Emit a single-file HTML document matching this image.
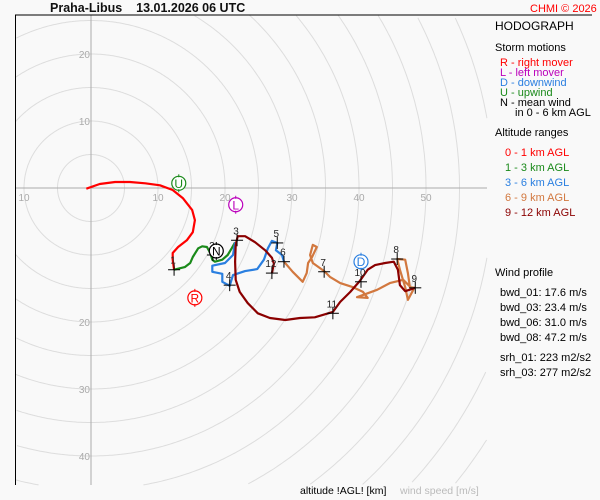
<!DOCTYPE html>
<html><head><meta charset="utf-8"><style>
html,body{margin:0;padding:0;width:600px;height:500px;overflow:hidden;background:#f9f9f9;}
svg{display:block;font-family:"Liberation Sans",sans-serif;}
</style></head><body>
<svg id="chart" width="600" height="500" viewBox="0 0 600 500" xmlns="http://www.w3.org/2000/svg">
<rect x="0" y="0" width="600" height="500" fill="#f9f9f9"/>
<defs><clipPath id="pc"><rect x="15" y="15" width="472" height="470"/></clipPath></defs>
<g id="grid"></g>
<line x1="15" y1="188" x2="487" y2="188" stroke="#aaa"/>
<line x1="91" y1="15" x2="91" y2="485" stroke="#aaa"/>
<g id="ticks" font-size="10" fill="#aaa"></g>
<g id="traces" clip-path="url(#pc)"></g>
<g id="markers"></g>
<g id="storms"></g>
<line x1="15" y1="15" x2="592" y2="15" stroke="#000"/>
<line x1="15.5" y1="15" x2="15.5" y2="485" stroke="#000"/>
<text x="50" y="12" font-size="12.5" font-weight="bold" fill="#111">Praha-Libus&#160;&#160;&#160; 13.01.2026 06 UTC</text>
<text x="530" y="12" font-size="11" fill="#f00">CHMI © 2026</text>
<g font-size="11">
<text x="495" y="30" font-size="12" fill="#000">HODOGRAPH</text>
<text x="495" y="51" fill="#000">Storm motions</text>
<text x="500" y="66" fill="#f00">R - right mover</text>
<text x="500" y="76" fill="#b0b">L - left mover</text>
<text x="500" y="86" fill="#2a7fe0">D - downwind</text>
<text x="500" y="96" fill="#1a8a1a">U - upwind</text>
<text x="500" y="106" fill="#000">N - mean wind</text>
<text x="515" y="116" fill="#000">in 0 - 6 km AGL</text>
<text x="495" y="136" fill="#000">Altitude ranges</text>
<text x="505" y="156" fill="#f00">0 - 1 km AGL</text>
<text x="505" y="171" fill="#1a8a1a">1 - 3 km AGL</text>
<text x="505" y="186" fill="#2a7fe0">3 - 6 km AGL</text>
<text x="505" y="201" fill="#d2783f">6 - 9 km AGL</text>
<text x="505" y="216" fill="#8b0000">9 - 12 km AGL</text>
<text x="495" y="276" fill="#000">Wind profile</text>
<text x="500" y="296" fill="#000">bwd_01: 17.6 m/s</text>
<text x="500" y="311" fill="#000">bwd_03: 23.4 m/s</text>
<text x="500" y="326" fill="#000">bwd_06: 31.0 m/s</text>
<text x="500" y="341" fill="#000">bwd_08: 47.2 m/s</text>
<text x="500" y="361" fill="#000">srh_01: 223 m2/s2</text>
<text x="500" y="376" fill="#000">srh_03: 277 m2/s2</text>
</g>
<text x="300" y="494" font-size="10.5" fill="#000">altitude !AGL! [km]</text>
<text x="400" y="494" font-size="10.5" fill="#bbb">wind speed [m/s]</text>
</svg>
<script>
const seg01U=[-0.7,1.3,3.6,5.8,8.1,10.3,12.2,13.7,15.1,15.5,15.2,14.3,13.0,12.2,12.2,12.4];
const seg01V=[-0.1,0.6,0.9,0.9,0.7,0.4,-0.3,-1.5,-3.3,-4.8,-6.6,-7.8,-8.8,-9.7,-10.7,-12.2];
const seg13U=[12.4,14.0,14.8,15.2,16.0,16.6,17.3,17.8,18.1,18.5,19.6,20.4,21.0,21.5];
const seg13V=[-12.2,-11.8,-11.2,-10.3,-9.0,-8.7,-8.8,-9.7,-10.7,-11.0,-10.7,-10.0,-9.0,-8.1];
const seg36U=[21.5,21.2,20.0,18.1,18.1,19.6,19.6,20.7,21.2,23.0,24.8,25.8,26.4,27.0,27.8,27.6,28.5,28.8];
const seg36V=[-8.1,-10.0,-11.2,-11.6,-12.5,-12.8,-14.0,-14.6,-13.0,-12.4,-12.1,-10.7,-9.0,-7.9,-8.2,-9.3,-10.0,-11.0];
const seg69U=[28.8,30.1,31.6,32.2,32.4,33.0,33.7,33.1,32.7,33.1,34.8,35.7,37.2,39.1,40.6,41.3,39.7,42.7,44.6,46.6,48.1,47.3,46.9,46.1,45.7,46.9,47.3,47.6,48.4];
const seg69V=[-11.0,-12.5,-14.0,-12.7,-11.2,-10.3,-8.8,-8.5,-10.0,-11.2,-12.4,-13.3,-14.2,-14.8,-15.5,-16.4,-16.3,-15.2,-14.2,-13.7,-15.2,-16.7,-14.8,-12.2,-10.6,-10.7,-12.7,-14.8,-14.9];
const seg912U=[48.4,46.9,46.1,45.8,45.2,43.9,42.4,41.3,40.1,38.7,37.2,36.1,33.4,31.2,29.0,26.7,24.9,23.4,22.2,21.6,21.5,21.6,21.9,23.0,24.5,26.0,27.0,27.3,27.0];
const seg912V=[-14.9,-15.4,-14.5,-12.2,-11.0,-11.2,-11.5,-12.2,-13.9,-15.5,-17.0,-18.5,-19.3,-19.4,-19.7,-19.4,-18.7,-17.2,-15.5,-13.7,-11.0,-8.5,-7.2,-7.2,-8.1,-9.3,-10.4,-11.3,-12.7];
const markerLabels=["1","2","3","4","5","6","7","8","9","10","11","12"];
const markerU=[12.4,18.2,21.8,20.7,27.8,28.8,34.8,45.7,48.4,40.3,36.1,27.0];
const markerV=[-12.2,-10.0,-7.8,-14.5,-8.2,-11.0,-12.5,-10.6,-14.9,-14.0,-18.7,-12.7];
const stormLabels=["U","L","N","R","D"];
const stormU=[13.1,21.6,18.7,15.5,40.3];
const stormV=[0.7,-2.5,-9.4,-16.4,-11.0];
const xTickVals=[-10,10,20,30,40,50];
const yTickVals=[20,10,-20,-30,-40];

const NS="http://www.w3.org/2000/svg";
const OX=91,OY=188,K=6.7;
const PX0=15,PX1=487,PY0=15,PY1=485;
const sx=u=>OX+u*K, sy=v=>OY-v*K;
function mk(t,a,p){const e=document.createElementNS(NS,t);for(const k in a)e.setAttribute(k,a[k]);p.appendChild(e);return e;}
const grid=document.getElementById('grid');
for(let r=5;r<=80;r+=5){
  const R=r*K;const N=720;let d='';let pen=false;
  for(let i=0;i<=N;i++){
    const a=i/N*2*Math.PI;const x=OX+R*Math.cos(a),y=OY+R*Math.sin(a);
    const inside=x>=PX0&&x<=PX1&&y>=PY0&&y<=PY1;
    if(inside){d+=(pen?'L':'M')+x.toFixed(1)+' '+y.toFixed(1);pen=true;}else pen=false;
  }
  if(!d)continue;
  const c=mk('path',{d:d,fill:'none',stroke:'#ddd','stroke-width':1},grid);
  
  
}
const ticks=document.getElementById('ticks');
xTickVals.forEach(v=>{
  const t=mk('text',{x:sx(v),y:OY+13,'text-anchor':'middle'},ticks);t.textContent=Math.abs(v);
  
  
});
yTickVals.forEach(v=>{
  const t=mk('text',{x:OX-1,y:sy(v)+4,'text-anchor':'end'},ticks);t.textContent=Math.abs(v);
  
  
});
const traces=document.getElementById('traces');
[[seg01U,seg01V,'#f00','trace-0-1km'],[seg13U,seg13V,'#1a8a1a','trace-1-3km'],[seg36U,seg36V,'#2a7fe0','trace-3-6km'],[seg69U,seg69V,'#d2783f','trace-6-9km'],[seg912U,seg912V,'#8b0000','trace-9-12km']].forEach(s=>{
  const pts=s[0].map((u,i)=>sx(u).toFixed(1)+','+sy(s[1][i]).toFixed(1)).join(' ');
  const p=mk('polyline',{points:pts,fill:'none',stroke:s[2],'stroke-width':2.2,'stroke-linejoin':'round'},traces);
  
  
});
const markers=document.getElementById('markers');
markerLabels.forEach((l,i)=>{
  const x=sx(markerU[i]),y=sy(markerV[i]);
  const g=mk('g',{},markers);
  
  
  mk('line',{x1:x-6,y1:y,x2:x+6,y2:y,stroke:'#000'},g);
  mk('line',{x1:x,y1:y-6,x2:x,y2:y+6,stroke:'#000'},g);
  const t=mk('text',{x:x-1,y:y-6,'font-size':10,'text-anchor':'middle',fill:'#222'},g);t.textContent=l;
});
const storms=document.getElementById('storms');
const sc={U:'#1a8a1a',L:'#b0b',N:'#000',R:'#f00',D:'#2a7fe0'};
stormLabels.forEach((l,i)=>{
  const x=sx(stormU[i]),y=sy(stormV[i]);
  const g=mk('g',{},storms);
  
  
  mk('circle',{cx:x,cy:y,r:7,fill:'#fff',stroke:sc[l],'stroke-width':1.2},g);
  mk('line',{x1:x,y1:y-9,x2:x,y2:y+9,stroke:sc[l]},g);
  mk('circle',{cx:x,cy:y,r:6,fill:'#fff'},g);
  const t=mk('text',{x:x,y:y+4.5,'font-size':12,'text-anchor':'middle',fill:sc[l]},g);t.textContent=l;
});
</script>
</body></html>
